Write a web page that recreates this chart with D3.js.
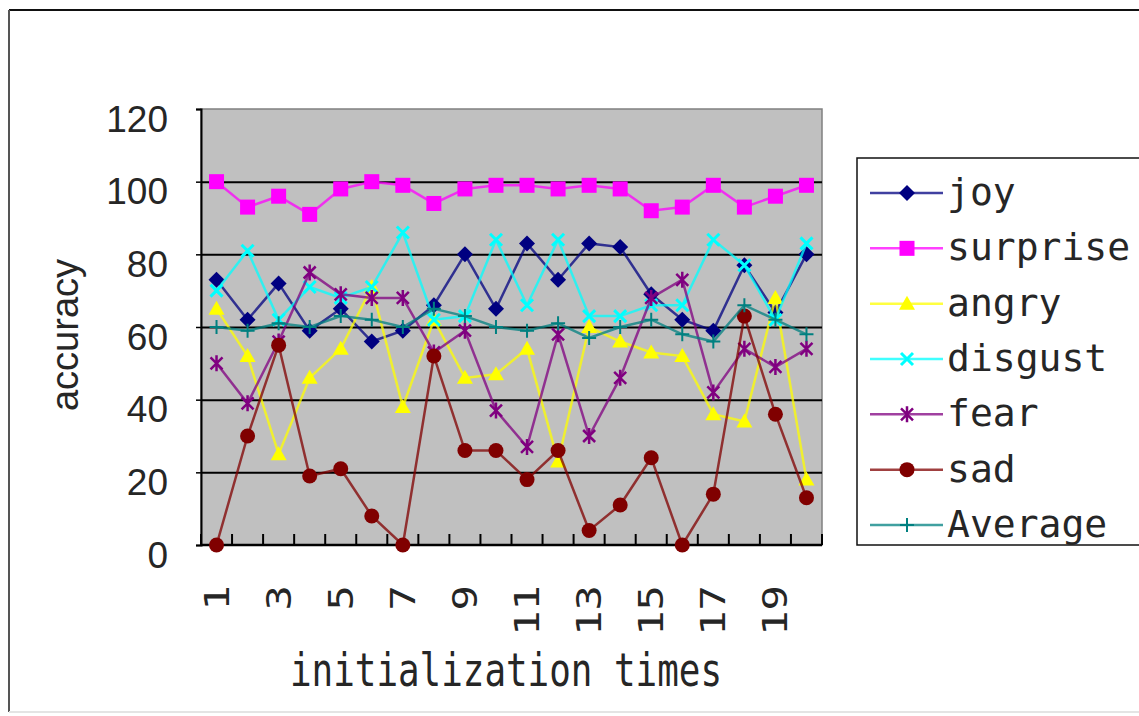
<!DOCTYPE html>
<html>
<head>
<meta charset="utf-8">
<script src="https://cdn.jsdelivr.net/npm/d3@7"></script>
<style>
  body { margin: 0; background: #fff; }
  svg { display: block; }
  .y.axis text { font-family: "Liberation Sans", Arial, sans-serif; font-size: 37px; fill: #262626; }
  .x.axis text { font-family: "DejaVu Sans Mono", monospace; font-size: 33px; fill: #262626; }
  .legend text { font-family: "DejaVu Sans Mono", monospace; font-size: 38px; fill: #262626; }
</style>
</head>
<body>
<div class="chart"></div>
<script>
// runs 1..20
const runs = d3.range(1, 21);
const xTickLabels = [1, 3, 5, 7, 9, 11, 13, 15, 17, 19];
const yTicks = [0, 20, 40, 60, 80, 100, 120];

const joy      = [73, 62, 72, 59, 65, 56, 59, 66, 80, 65, 83, 73, 83, 82, 69, 62, 59, 77, 64, 80];
const surprise = [100, 93, 96, 91, 98, 100, 99, 94, 98, 99, 99, 98, 99, 98, 92, 93, 99, 93, 96, 99];
const angry    = [65, 52, 25, 46, 54, 71, 38, 62, 46, 47, 54, 23, 60, 56, 53, 52, 36, 34, 68, 18];
const disgust  = [70, 81, 62, 71, 68, 71, 86, 62, 63, 84, 66, 84, 63, 63, 66, 66, 84, 77, 62, 83];
const fear     = [50, 39, 56, 75, 69, 68, 68, 53, 59, 37, 27, 58, 30, 46, 68, 73, 42, 54, 49, 54];
const sad      = [0, 30, 55, 19, 21, 8, 0, 52, 26, 26, 18, 26, 4, 11, 24, 0, 14, 63, 36, 13];
const average  = [60, 59, 61, 60, 63, 62, 60, 65, 63, 60, 59, 61, 57, 60, 62, 58, 56, 66, 62, 58];

const series = [
  {name: "joy", values: joy, color: "#000080", marker: "diamond"},
  {name: "surprise", values: surprise, color: "#ff00ff", marker: "square"},
  {name: "angry", values: angry, color: "#ffff00", marker: "triangle"},
  {name: "disgust", values: disgust, color: "#00ffff", marker: "x"},
  {name: "fear", values: fear, color: "#800080", marker: "star"},
  {name: "sad", values: sad, color: "#800000", marker: "circle"},
  {name: "Average", values: average, color: "#008080", marker: "plus"}
];

const w = 1139, h = 716;
const plot = {left: 201, right: 822, top: 109, bottom: 545};

const svg = d3.select(".chart").append("svg")
  .attr("width", w)
  .attr("height", h);

// outer frame
svg.append("rect").attr("x", 0).attr("y", 0).attr("width", w).attr("height", h).attr("fill", "#fff");
svg.append("line").attr("x1", 9).attr("x2", w).attr("y1", 10).attr("y2", 10).attr("stroke", "#111").attr("stroke-width", 2);
svg.append("line").attr("x1", 9).attr("x2", 9).attr("y1", 10).attr("y2", 712).attr("stroke", "#555").attr("stroke-width", 2);
svg.append("line").attr("x1", 9).attr("x2", w).attr("y1", 712).attr("y2", 712).attr("stroke", "#e4e4e4").attr("stroke-width", 2);

let xScale = d3.scaleBand()
  .domain(runs)
  .range([plot.left, plot.right]);

let yScale = d3.scaleLinear()
  .domain([0, 120])
  .range([plot.bottom, plot.top]);

const cx = d => xScale(d) + xScale.bandwidth() / 2;

// plot background
svg.append("rect")
  .attr("x", plot.left).attr("y", plot.top)
  .attr("width", plot.right - plot.left).attr("height", plot.bottom - plot.top)
  .attr("fill", "#c0c0c0")
  .attr("stroke", "#808080")
  .attr("stroke-width", 1.5);

// gridlines
let grid = svg.append("g")
  .attr("class", "grid")
  .attr("transform", "translate(" + plot.left + ",0)")
  .call(d3.axisLeft(yScale).tickValues(yTicks.filter(v => v > 0 && v < 120)).tickSize(-(plot.right - plot.left)).tickFormat(""));
grid.select(".domain").remove();
grid.selectAll("line").attr("stroke", "#000").attr("stroke-width", 2);

// y axis
let yaxis = svg.append("g")
  .attr("class", "y axis")
  .attr("transform", "translate(" + plot.left + ",0)")
  .call(d3.axisLeft(yScale).tickValues(yTicks).tickSize(5).tickPadding(28));
yaxis.select(".domain").attr("stroke", "#000").attr("stroke-width", 2);
yaxis.selectAll("line").attr("stroke", "#000").attr("stroke-width", 1.5);
yaxis.selectAll("text").attr("dy", "0.6em");

// x axis line + category ticks
let xaxis = svg.append("g")
  .attr("class", "x axis")
  .attr("transform", "translate(0," + plot.bottom + ")");
xaxis.append("line")
  .attr("x1", plot.left).attr("x2", plot.right)
  .attr("stroke", "#000").attr("stroke-width", 2.5);
xaxis.selectAll(".cat-tick")
  .data(runs.concat([21]))
  .enter().append("line")
  .attr("class", "cat-tick")
  .attr("x1", d => d <= 20 ? xScale(d) : plot.right)
  .attr("x2", d => d <= 20 ? xScale(d) : plot.right)
  .attr("y1", 0).attr("y2", -11)
  .attr("stroke", "#000").attr("stroke-width", 2);
xaxis.selectAll(".xlab")
  .data(xTickLabels)
  .enter().append("text")
  .attr("class", "xlab")
  .attr("transform", d => "translate(" + (cx(d) + 12) + ",40) rotate(-90) scale(1.28,1)")
  .attr("text-anchor", "end")
  .text(d => d);

// axis titles
svg.append("text")
  .attr("transform", "translate(78,335) rotate(-90)")
  .attr("text-anchor", "middle")
  .style("font-family", '"Liberation Sans", Arial, sans-serif')
  .style("font-size", "38px")
  .attr("fill", "#262626")
  .text("accuracy");

svg.append("text")
  .attr("transform", "translate(506,686) scale(0.78,1)")
  .attr("text-anchor", "middle")
  .style("font-family", '"DejaVu Sans Mono", monospace')
  .style("font-size", "46px")
  .attr("fill", "#262626")
  .text("initialization times");

// marker drawing
function drawMarker(g, type, color) {
  if (type === "diamond") {
    g.append("path").attr("d", "M0,-8L8,0L0,8L-8,0Z").attr("fill", color);
  } else if (type === "square") {
    g.append("rect").attr("x", -7.5).attr("y", -7.5).attr("width", 15).attr("height", 15).attr("fill", color);
  } else if (type === "triangle") {
    g.append("path").attr("d", "M0,-8L8,6L-8,6Z").attr("fill", color);
  } else if (type === "x") {
    g.append("path").attr("d", "M-6,-6L6,6M-6,6L6,-6").attr("stroke", color).attr("stroke-width", 3);
  } else if (type === "star") {
    g.append("path").attr("d", "M-6,-6L6,6M-6,6L6,-6M0,-8L0,8").attr("stroke", color).attr("stroke-width", 2.5);
  } else if (type === "circle") {
    g.append("circle").attr("r", 7.5).attr("fill", color);
  } else if (type === "plus") {
    g.append("path").attr("d", "M-7,0L7,0M0,-7L0,7").attr("stroke", color).attr("stroke-width", 2);
  }
}

let line = d3.line()
  .x((d, i) => cx(runs[i]))
  .y(d => yScale(d));

series.forEach(s => {
  let g = svg.append("g").attr("class", "series " + s.name);
  g.append("path")
    .datum(s.values)
    .attr("fill", "none")
    .attr("stroke", s.color)
    .attr("stroke-opacity", 0.75)
    .attr("stroke-width", 2.5)
    .attr("d", line);
  g.selectAll(".pt")
    .data(s.values)
    .enter().append("g")
    .attr("class", "pt")
    .attr("transform", (d, i) => "translate(" + cx(runs[i]) + "," + yScale(d) + ")")
    .each(function() { drawMarker(d3.select(this), s.marker, s.color); });
});

// legend
let legend = svg.append("g").attr("class", "legend");
legend.append("rect")
  .attr("x", 857).attr("y", 158)
  .attr("width", 300).attr("height", 387)
  .attr("fill", "#fff")
  .attr("stroke", "#111")
  .attr("stroke-width", 1.5);

let legendY = d3.scalePoint()
  .domain(series.map(s => s.name))
  .range([193, 525]);

series.forEach(s => {
  let item = legend.append("g")
    .attr("transform", "translate(0," + legendY(s.name) + ")");
  item.append("line")
    .attr("x1", 870).attr("x2", 943)
    .attr("stroke", s.color).attr("stroke-opacity", 0.75).attr("stroke-width", 2.5);
  drawMarker(item.append("g").attr("transform", "translate(907,0)"), s.marker, s.color);
  item.append("text")
    .attr("x", 947).attr("y", 12)
    .text(s.name);
});
</script>
</body>
</html>
